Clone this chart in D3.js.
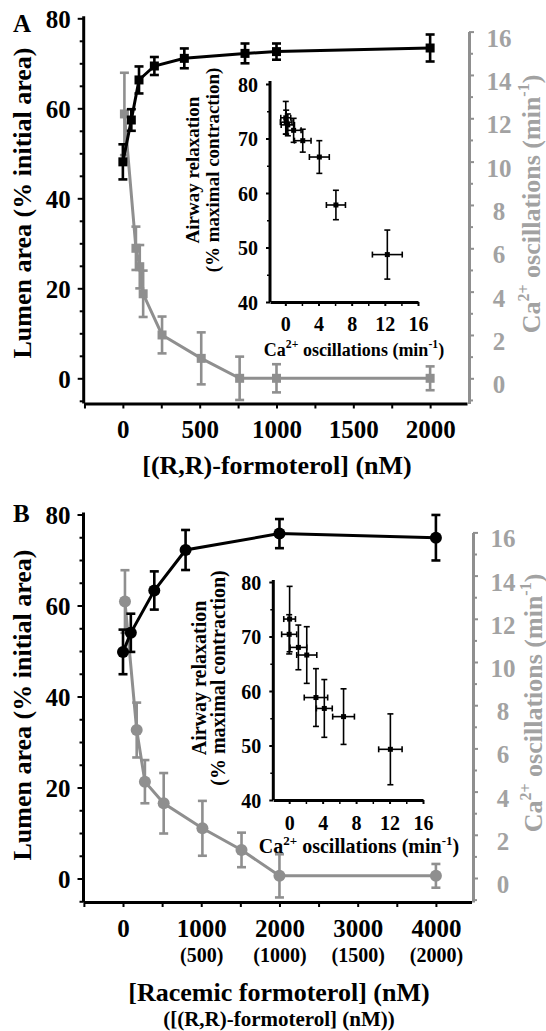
<!DOCTYPE html>
<html><head><meta charset="utf-8">
<script src="https://cdn.jsdelivr.net/npm/d3@7"></script>
<style>
body{margin:0;background:#fff}
svg{display:block}
text{font-family:"Liberation Serif","Times New Roman",serif;font-weight:bold}
</style>
</head><body>
<svg id="c" width="546" height="1031"></svg>
<script>
// ---------------- DATA ----------------
// Panel A : (R,R)-formoterol (nM)
const aTicksX = [0, 500, 1000, 1500, 2000];
const aMinorX = [-250, 250, 750, 1250, 1750];
const aLumenConc = [0, 55, 105, 205, 400, 795, 1000, 2000];
const aLumen     = [48.1, 57.4, 66.3, 69.4, 71.1, 72.2, 72.6, 73.4];
const aLumenErr  = [3.9, 2.4, 3.0, 2.0, 2.2, 2.2, 1.8, 3.0];
const aCaConc = [10, 85, 110, 132, 255, 510, 760, 1000, 2000];
const aCa     = [12.2, 6.0, 5.15, 3.9, 2.0, 0.92, 0, 0, 0];
const aCaErr  = [1.9, 1.0, 1.0, 1.07, 0.85, 1.2, 1.0, 0.65, 0.55];
const aInsetCa       = [0.05, 0.1, 0.3, 1.0, 2.1, 4.1, 6.1, 12.3];
const aInsetCaErr    = [0.6, 0.7, 0.8, 0.9, 1.0, 1.2, 1.15, 1.8];
const aInsetRelax    = [73.8, 73.0, 72.5, 71.5, 69.6, 66.6, 57.8, 48.7];
const aInsetRelaxErr = [3.0, 2.2, 2.0, 2.2, 2.1, 3.0, 2.7, 4.5];

// Panel B : racemic formoterol (nM)
const bTicksX = [0, 1000, 2000, 3000, 4000];
const bTickSub = ["", "(500)", "(1000)", "(1500)", "(2000)"];
const bMinorX = [-500, 500, 1500, 2500, 3500];
const bLumenConc = [0, 100, 400, 800, 2000, 4000];
const bLumen     = [49.8, 54.0, 63.3, 72.2, 75.8, 74.9];
const bLumenErr  = [4.9, 4.2, 4.2, 4.4, 3.2, 5.0];
const bCaConc = [25, 175, 280, 520, 1015, 1515, 2000, 4000];
const bCa     = [12.8, 6.85, 4.46, 3.46, 2.3, 1.3, 0.1, 0.1];
const bCaErr  = [1.45, 1.27, 1.0, 1.4, 1.27, 0.8, 1.0, 0.55];
const bInsetCa       = [0.05, 0, 1.1, 2.1, 3.2, 4.2, 6.5, 12.1];
const bInsetCaErr    = [0.7, 0.9, 1.0, 1.2, 1.4, 0.95, 1.3, 1.4];
const bInsetRelax    = [73.2, 70.4, 68.0, 66.6, 58.8, 56.8, 55.3, 49.3];
const bInsetRelaxErr = [6.0, 3.6, 4.1, 5.2, 5.3, 5.3, 5.1, 6.5];

// axis ticks
const leftTicks = [0, 20, 40, 60, 80];
const leftMinor = [-5, 5, 10, 15, 25, 30, 35, 45, 50, 55, 65, 70, 75];
const rightTicks = [0, 2, 4, 6, 8, 10, 12, 14, 16];
const rightMinor = [-1, 1, 3, 5, 7, 9, 11, 13, 15];
const insetYTicks = [40, 50, 60, 70, 80];
const insetYMinor = [45, 55, 65, 75];
const insetXTicks = [0, 4, 8, 12, 16];
const insetXMinor = [2, 6, 10, 14];

const GRAY = "#8f8f8f";
const GRAY_TXT = "#a2a2a2";

const svg = d3.select("#c");

function styleAxis(sel, color, lw, fs) {
  sel.select(".domain").attr("stroke", color).attr("stroke-width", lw);
  sel.selectAll(".tick line").attr("stroke", color).attr("stroke-width", 2);
  sel.selectAll(".tick text").attr("fill", color).attr("font-size", fs)
     .attr("font-family", "Liberation Serif, serif").attr("font-weight", "bold");
}

function caTitle(g, x, y, size, color, supSize, shift) {
  const t = g.append("text").attr("transform", `translate(${x},${y}) rotate(-90)`)
    .attr("text-anchor", "middle").attr("fill", color).attr("font-size", size);
  t.append("tspan").text("Ca");
  t.append("tspan").attr("font-size", supSize).attr("dy", -shift).text("2+");
  t.append("tspan").attr("dy", shift).text(" oscillations (min");
  t.append("tspan").attr("font-size", supSize).attr("dy", -shift).text("-1");
  t.append("tspan").attr("dy", shift).text(")");
  return t;
}
function caTitleH(g, x, y, size, color, supSize) {
  const t = g.append("text").attr("x", x).attr("y", y)
    .attr("text-anchor", "middle").attr("fill", color).attr("font-size", size);
  t.append("tspan").text("Ca");
  t.append("tspan").attr("font-size", supSize).attr("dy", -size*0.42).text("2+");
  t.append("tspan").attr("dy", size*0.42).text(" oscillations (min");
  t.append("tspan").attr("font-size", supSize).attr("dy", -size*0.42).text("-1");
  t.append("tspan").attr("dy", size*0.42).text(")");
  return t;
}

function drawSeries(g, xs, ys, conc, vals, errs, o) {
  const pts = conc.map((c, i) => ({x: c, y: vals[i], e: errs[i]}));
  g.append("path").datum(pts)
    .attr("d", d3.line().x(d => xs(d.x)).y(d => ys(d.y)))
    .attr("fill", "none").attr("stroke", o.color).attr("stroke-width", o.lw);
  const eb = g.append("g").attr("stroke", o.color).attr("stroke-width", o.ew);
  eb.selectAll("line.v").data(pts).join("line").attr("class", "v")
    .attr("x1", d => xs(d.x)).attr("x2", d => xs(d.x))
    .attr("y1", d => ys(d.y - d.e)).attr("y2", d => ys(d.y + d.e));
  eb.selectAll("line.t").data(pts).join("line").attr("class", "t")
    .attr("x1", d => xs(d.x) - o.cap).attr("x2", d => xs(d.x) + o.cap)
    .attr("y1", d => ys(d.y + d.e)).attr("y2", d => ys(d.y + d.e));
  eb.selectAll("line.b").data(pts).join("line").attr("class", "b")
    .attr("x1", d => xs(d.x) - o.cap).attr("x2", d => xs(d.x) + o.cap)
    .attr("y1", d => ys(d.y - d.e)).attr("y2", d => ys(d.y - d.e));
  if (o.shape === "square") {
    g.selectAll(null).data(pts).join("rect")
      .attr("x", d => xs(d.x) - o.ms/2).attr("y", d => ys(d.y) - o.ms/2)
      .attr("width", o.ms).attr("height", o.ms).attr("fill", o.color);
  } else {
    g.selectAll(null).data(pts).join("circle")
      .attr("cx", d => xs(d.x)).attr("cy", d => ys(d.y))
      .attr("r", o.ms/2).attr("fill", o.color);
  }
}

function drawInset(g, c) {
  const x = d3.scaleLinear().domain(c.xDom).range(c.xRange);
  const y = d3.scaleLinear().domain([40, 80]).range(c.yRange);
  const ax = g.append("g").attr("transform", `translate(${c.xRange[0]},0)`)
    .call(d3.axisLeft(y).tickValues(insetYTicks).tickSize(4).tickSizeOuter(0).tickPadding(8).tickFormat(d3.format("d")));
  styleAxis(ax, "#000", 3, c.tfs);
  ax.select(".domain").attr("d", `M0,${c.yRange[0]}V${c.yTop}`);
  ax.selectAll(".tick text").attr("dy", "0.36em");
  const axm = g.append("g").attr("transform", `translate(${c.xRange[0]},0)`)
    .call(d3.axisLeft(y).tickValues(insetYMinor).tickSize(3).tickFormat(""));
  axm.select(".domain").remove();
  axm.selectAll("line").attr("stroke", "#000").attr("stroke-width", 1.5);
  const bx = g.append("g").attr("transform", `translate(0,${c.yRange[0]})`)
    .call(d3.axisBottom(x).tickValues(insetXTicks).tickSize(4).tickSizeOuter(0).tickPadding(c.xPad).tickFormat(d3.format("d")));
  styleAxis(bx, "#000", 3, c.tfs);
  const bxm = g.append("g").attr("transform", `translate(0,${c.yRange[0]})`)
    .call(d3.axisBottom(x).tickValues(insetXMinor).tickSize(4).tickFormat(""));
  bxm.select(".domain").remove();
  bxm.selectAll("line").attr("stroke", "#000").attr("stroke-width", 1.5);

  const pts = c.ca.map((v, i) => ({x: v, xe: c.caErr[i], y: c.relax[i], ye: c.relaxErr[i]}));
  const e = g.append("g").attr("stroke", "#000").attr("stroke-width", 1.6);
  e.selectAll("line.v").data(pts).join("line").attr("class", "v")
    .attr("x1", d => x(d.x)).attr("x2", d => x(d.x)).attr("y1", d => y(d.y - d.ye)).attr("y2", d => y(d.y + d.ye));
  e.selectAll("line.h").data(pts).join("line").attr("class", "h")
    .attr("x1", d => x(d.x - d.xe)).attr("x2", d => x(d.x + d.xe)).attr("y1", d => y(d.y)).attr("y2", d => y(d.y));
  e.selectAll("line.vt").data(pts).join("line").attr("class", "vt")
    .attr("x1", d => x(d.x) - 3).attr("x2", d => x(d.x) + 3).attr("y1", d => y(d.y + d.ye)).attr("y2", d => y(d.y + d.ye));
  e.selectAll("line.vb").data(pts).join("line").attr("class", "vb")
    .attr("x1", d => x(d.x) - 3).attr("x2", d => x(d.x) + 3).attr("y1", d => y(d.y - d.ye)).attr("y2", d => y(d.y - d.ye));
  e.selectAll("line.hl").data(pts).join("line").attr("class", "hl")
    .attr("x1", d => x(d.x - d.xe)).attr("x2", d => x(d.x - d.xe)).attr("y1", d => y(d.y) - 3).attr("y2", d => y(d.y) + 3);
  e.selectAll("line.hr").data(pts).join("line").attr("class", "hr")
    .attr("x1", d => x(d.x + d.xe)).attr("x2", d => x(d.x + d.xe)).attr("y1", d => y(d.y) - 3).attr("y2", d => y(d.y) + 3);
  g.selectAll(null).data(pts).join("rect")
    .attr("x", d => x(d.x) - 2.5).attr("y", d => y(d.y) - 2.5).attr("width", 5).attr("height", 5).attr("fill", "#000");

  const ty = c.labelY;
  g.append("text").attr("transform", `translate(${c.l1x},${ty}) rotate(-90)`)
    .attr("text-anchor", "middle").attr("dominant-baseline", "central").attr("font-size", c.lfs).text("Airway relaxation");
  g.append("text").attr("transform", `translate(${c.l2x},${ty}) rotate(-90)`)
    .attr("text-anchor", "middle").attr("dominant-baseline", "central").attr("font-size", c.lfs).text("(% maximal contraction)");
  caTitleH(g, c.tx, c.ty, c.tfs2, "#000", c.tfs2 * 0.65);
}

function drawPanel(c) {
  const g = svg.append("g");
  const x = d3.scaleLinear().domain(c.xDom).range(c.xRange);
  const yL = d3.scaleLinear().domain(c.yLDom).range(c.yLRange);
  const yR = d3.scaleLinear().domain(c.yRDom).range(c.yRRange);
  const axisY = c.yLRange[0];

  const la = g.append("g").attr("transform", `translate(${c.xRange[0]},0)`)
    .call(d3.axisLeft(yL).tickValues(leftTicks).tickSize(6).tickSizeOuter(0).tickPadding(7).tickFormat(d3.format("d")));
  styleAxis(la, "#000", 3, 25);
  la.select(".domain").attr("d", `M0,${axisY}V${c.yLRange[1] - 2}`);
  la.selectAll(".tick text").attr("dy", "0.36em");
  const lm = g.append("g").attr("transform", `translate(${c.xRange[0]},0)`)
    .call(d3.axisLeft(yL).tickValues(leftMinor).tickSize(4).tickFormat(""));
  lm.select(".domain").remove();
  lm.selectAll("line").attr("stroke", "#000").attr("stroke-width", 2);

  const ra = g.append("g").attr("transform", `translate(${c.rightX},0)`)
    .call(d3.axisRight(yR).tickValues(rightTicks).tickSize(5).tickSizeOuter(0).tickFormat(d3.format("d")));
  styleAxis(ra, GRAY, 3, 25);
  ra.selectAll(".tick text").attr("fill", GRAY_TXT).attr("text-anchor", "middle").attr("x", c.rightLabelDx).attr("dy", "0.58em");
  const rm = g.append("g").attr("transform", `translate(${c.rightX},0)`)
    .call(d3.axisRight(yR).tickValues(rightMinor).tickSize(4).tickFormat(""));
  rm.select(".domain").remove();
  rm.selectAll("line").attr("stroke", GRAY).attr("stroke-width", 2);

  const ba = g.append("g").attr("transform", `translate(0,${axisY})`)
    .call(d3.axisBottom(x).tickValues(c.ticksX).tickSize(5).tickSizeOuter(0).tickPadding(12).tickFormat(d3.format("d")));
  styleAxis(ba, "#000", 3, 25);
  const bm = g.append("g").attr("transform", `translate(0,${axisY})`)
    .call(d3.axisBottom(x).tickValues(c.minorX).tickSize(5).tickFormat(""));
  bm.select(".domain").remove();
  bm.selectAll("line").attr("stroke", "#000").attr("stroke-width", 2);
  if (c.tickSub) {
    ba.selectAll(".tick").append("text").attr("y", 46).attr("dy", "0.71em")
      .attr("fill", "#000").attr("font-size", 20).attr("text-anchor", "middle")
      .text((d, i) => c.tickSub[i]);
  }

  drawSeries(g, x, yR, c.caConc, c.ca, c.caErr, {color: GRAY, lw: 3, ew: 2.6, cap: 4.5, shape: c.shape, ms: c.shape === "square" ? 9 : 12});
  drawSeries(g, x, yL, c.lConc, c.lumen, c.lumenErr, {color: "#000", lw: 3, ew: 2.6, cap: 4.5, shape: c.shape, ms: c.shape === "square" ? 9 : 12});

  g.append("text").attr("x", 13).attr("y", c.letterY).attr("font-size", 25).attr("dominant-baseline", "central").text(c.letter);
  g.append("text").attr("transform", `translate(22,${c.titleY}) rotate(-90)`)
    .attr("text-anchor", "middle").attr("dominant-baseline", "central").attr("font-size", 26).text("Lumen area (% initial area)");
  caTitle(g, c.rightTitleX, c.rightTitleY, 26, GRAY_TXT, 16, 8).attr("dominant-baseline", "central");
  g.append("text").attr("x", c.xTitleX).attr("y", c.xTitleY).attr("text-anchor", "middle")
    .attr("font-size", 26).text(c.xTitle);
  if (c.xSub) {
    g.append("text").attr("x", c.xTitleX).attr("y", c.xSubY).attr("text-anchor", "middle")
      .attr("font-size", 21).text(c.xSub);
  }
  drawInset(g.append("g"), c.inset);
}

drawPanel({
  letter: "A", letterY: 23,
  xDom: [-255, 2240], xRange: [83.7, 467],
  yLDom: [-5.6, 80], yLRange: [403.5, 18.3],
  yRDom: [-1.163, 16], yRRange: [403.5, 31.6],
  rightX: 469, rightLabelDx: 30,
  ticksX: aTicksX, minorX: aMinorX,
  lConc: aLumenConc, lumen: aLumen, lumenErr: aLumenErr,
  caConc: aCaConc, ca: aCa, caErr: aCaErr,
  shape: "square",
  titleY: 203, rightTitleX: 531, rightTitleY: 204,
  xTitle: "[(R,R)-formoterol] (nM)", xTitleX: 277, xTitleY: 474,
  inset: {
    xDom: [-1.85, 16], xRange: [270, 418], yRange: [302, 84], yTop: 81,
    ca: aInsetCa, caErr: aInsetCaErr, relax: aInsetRelax, relaxErr: aInsetRelaxErr,
    tfs: 20, tfs2: 18, lfs: 19, xPad: 11, l1x: 192, l2x: 212, labelY: 170, tx: 354, ty: 356
  }
});

drawPanel({
  letter: "B", letterY: 513,
  xDom: [-505, 4455], xRange: [83.5, 471.5],
  yLDom: [-5.16, 80], yLRange: [902, 514.5],
  yRDom: [-1.111, 16], yRRange: [902, 532.4],
  rightX: 473, rightLabelDx: 30,
  ticksX: bTicksX, minorX: bMinorX, tickSub: bTickSub,
  lConc: bLumenConc, lumen: bLumen, lumenErr: bLumenErr,
  caConc: bCaConc, ca: bCa, caErr: bCaErr,
  shape: "circle",
  titleY: 705, rightTitleX: 533, rightTitleY: 703,
  xTitle: "[Racemic formoterol] (nM)", xTitleX: 279, xTitleY: 1001,
  xSub: "([(R,R)-formoterol] (nM))", xSubY: 1026,
  inset: {
    xDom: [-1.9, 16], xRange: [273.3, 423], yRange: [800, 582], yTop: 580,
    ca: bInsetCa, caErr: bInsetCaErr, relax: bInsetRelax, relaxErr: bInsetRelaxErr,
    tfs: 20, tfs2: 20, lfs: 20, xPad: 12, l1x: 199, l2x: 218, labelY: 678, tx: 359, ty: 853
  }
});
</script>
</body></html>
